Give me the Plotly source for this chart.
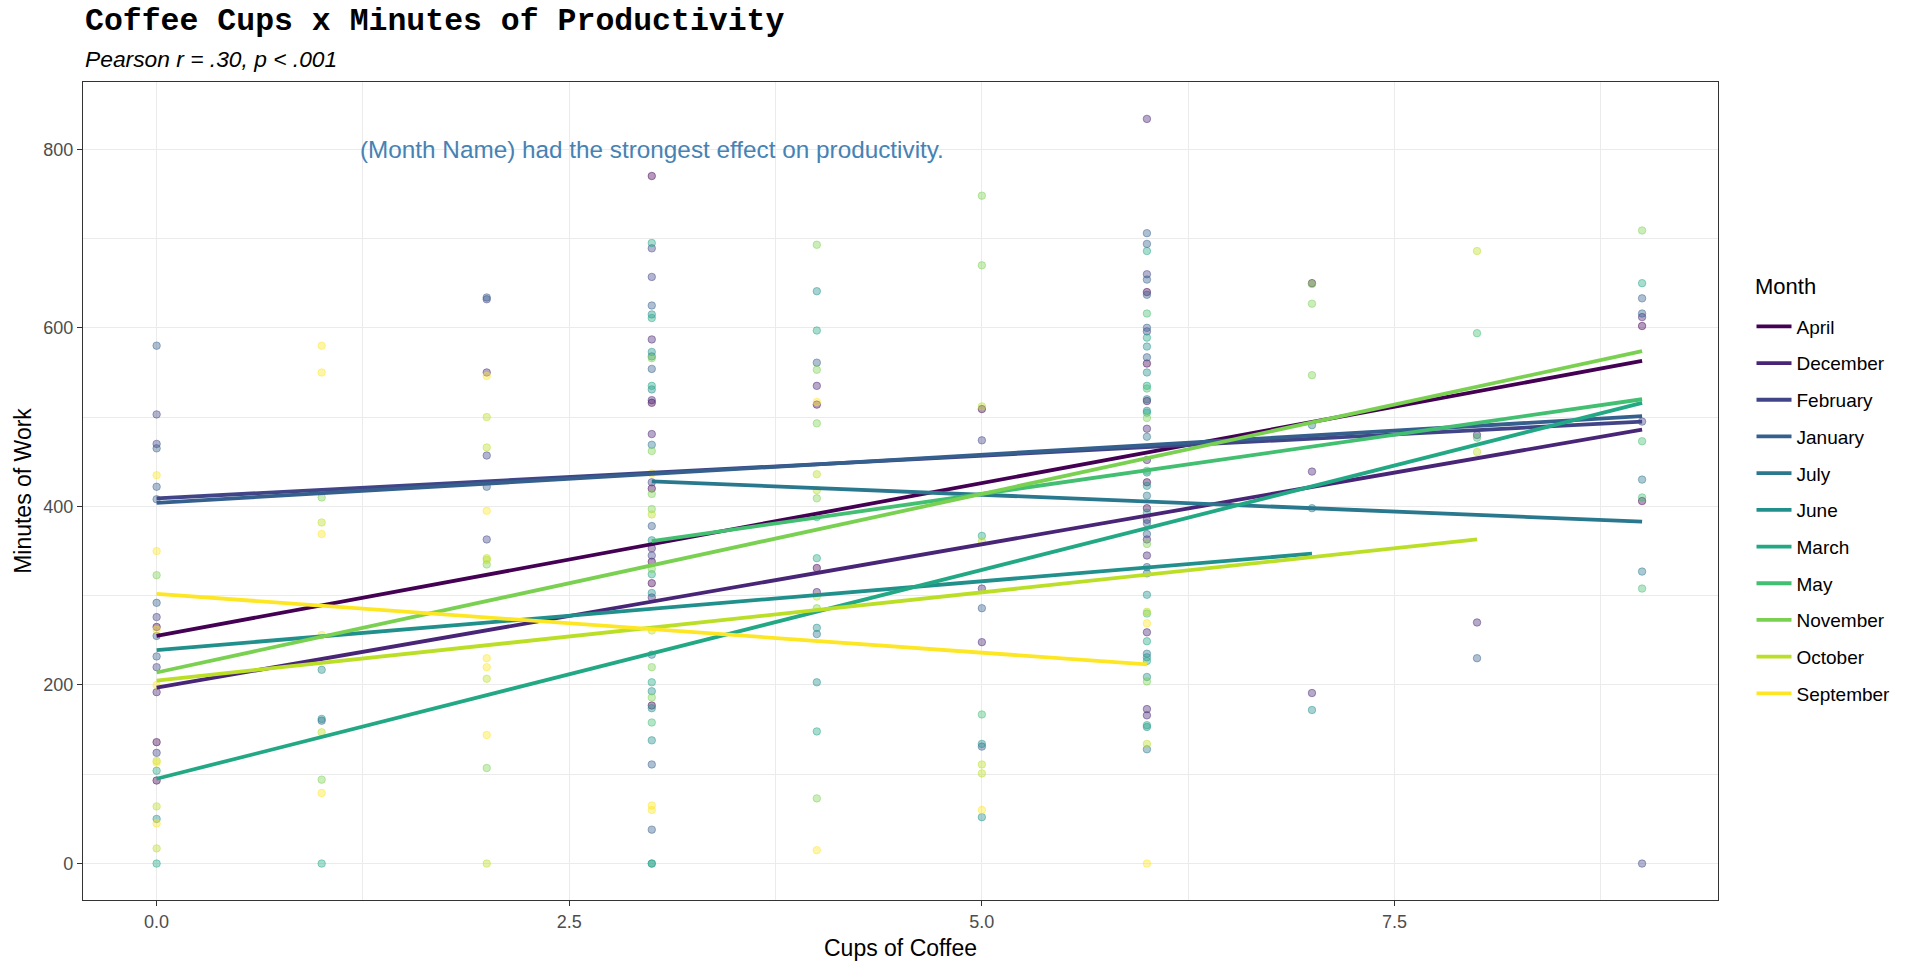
import plotly.graph_objects as go

# ---------------- data ----------------
months = ["April", "December", "February", "January", "July", "June",
          "March", "May", "November", "October", "September"]
colors = ["#440154", "#482576", "#414487", "#35608D", "#2A788E", "#21908C",
          "#22A884", "#43BF71", "#7AD151", "#BBDF27", "#FDE725"]

april_x = [0, 0, 0, 3, 3, 3, 3, 3, 3, 4, 4, 5, 6, 6, 6, 6, 6, 7, 9, 9]
april_y = [265, 136, 93, 770, 516, 420, 338, 314, 177, 514, 331, 509, 640, 560, 518, 427, 398, 650, 602, 406]

december_x = [0, 2, 3, 3, 3, 3, 3, 4, 4, 5, 5, 6, 6, 6, 6, 6, 6, 6, 6, 6, 7, 7, 8, 8, 9]
december_y = [192, 550, 587, 519, 481, 353, 298, 535, 304, 308, 248, 834, 487, 452, 385, 363, 345, 259, 173, 166, 439, 191, 480, 270, 612]

february_x = [0, 0, 0, 0, 0, 2, 2, 2, 3, 3, 3, 3, 5, 6, 6, 9, 9]
february_y = [503, 470, 276, 220, 124, 632, 457, 363, 689, 657, 427, 345, 474, 660, 596, 495, 0]

january_x = [0, 0, 0, 0, 0, 0, 0, 1, 2, 2, 3, 3, 3, 3, 3, 4, 5, 5, 6, 6, 6, 6, 6, 6, 6, 6, 6, 8, 9, 9]
january_y = [580, 465, 422, 408, 292, 255, 232, 160, 634, 422, 625, 554, 378, 111, 38, 561, 286, 131, 706, 694, 654, 637, 600, 567, 381, 369, 332, 230, 633, 616]

july_x = [3, 3, 3, 4, 6, 6, 6, 6, 6, 6, 7, 7, 9, 9]
july_y = [568, 469, 234, 257, 520, 478, 412, 325, 235, 128, 491, 398, 430, 327]

june_x = [0, 1, 1, 3, 3, 3, 3, 3, 3, 3, 3, 3, 4, 4, 4, 5, 5, 6, 6, 6, 6, 6, 6, 6, 6, 6, 6, 7]
june_y = [50, 217, 162, 615, 573, 531, 362, 303, 193, 174, 138, 0, 641, 264, 203, 134, 52, 579, 550, 507, 438, 423, 393, 301, 231, 209, 153, 172]

march_x = [0, 0, 1, 3, 3, 3, 3, 3, 3, 4, 4, 4, 4, 5, 6, 6, 6, 6, 6, 6, 6, 9]
march_y = [104, 0, 0, 695, 611, 535, 324, 203, 0, 597, 388, 342, 148, 367, 686, 589, 535, 505, 249, 227, 155, 650]

may_x = [3, 5, 6, 6, 6, 6, 8, 8, 9, 9, 9]
may_y = [158, 167, 616, 532, 440, 280, 594, 477, 473, 410, 308]

november_x = [0, 1, 1, 2, 2, 3, 3, 3, 3, 3, 3, 3, 4, 4, 4, 4, 4, 4, 5, 5, 6, 6, 6, 7, 7, 7, 9]
november_y = [323, 410, 94, 335, 107, 566, 462, 414, 397, 330, 220, 186, 693, 553, 493, 409, 286, 73, 748, 670, 499, 358, 204, 649, 627, 547, 709]

october_x = [0, 0, 0, 1, 1, 2, 2, 2, 2, 2, 2, 3, 3, 4, 4, 4, 5, 5, 5, 5, 6, 6, 8, 8]
october_y = [115, 64, 17, 382, 147, 500, 466, 342, 340, 207, 0, 391, 261, 436, 418, 299, 512, 361, 111, 101, 282, 134, 686, 461]

september_x = [0, 0, 0, 0, 0, 0, 1, 1, 1, 1, 1, 2, 2, 2, 2, 2, 3, 3, 3, 4, 4, 5, 6, 6]
september_y = [435, 350, 262, 200, 113, 45, 580, 550, 369, 256, 79, 546, 395, 230, 220, 144, 437, 65, 60, 517, 15, 60, 269, 0]

# fitted (lm) line end points per month
line_x0 = [0, 0, 0, 0, 3, 0, 0, 3, 0, 0, 0]
line_x1 = [9, 9, 9, 9, 9, 7, 9, 9, 9, 8, 6]
line_y0 = [255, 197, 409, 404, 428, 239, 95, 361, 214, 205, 302]
line_y1 = [563, 486, 495, 501, 383, 347, 516, 520, 574, 363, 223]

x_ticks = [0, 2.5, 5, 7.5]
x_tick_labels = ["0.0", "2.5", "5.0", "7.5"]
y_ticks = [0, 200, 400, 600, 800]
y_tick_labels = ["0", "200", "400", "600", "800"]

title_text = "Coffee Cups x Minutes of Productivity"
subtitle_text = "Pearson r = .30, p < .001"
note_text = "(Month Name) had the strongest effect on productivity."
legend_title = "Month"

points_x = [april_x, december_x, february_x, january_x, july_x, june_x,
            march_x, may_x, november_x, october_x, september_x]
points_y = [april_y, december_y, february_y, january_y, july_y, june_y,
            march_y, may_y, november_y, october_y, september_y]

# ---------------- figure ----------------
SANS = "Liberation Sans, Arial, sans-serif"
MONO = "Liberation Mono, Courier New, monospace"


def rgba(hex_color, a):
    h = hex_color.lstrip("#")
    r, g, b = int(h[0:2], 16), int(h[2:4], 16), int(h[4:6], 16)
    return f"rgba({r},{g},{b},{a})"


fig = go.Figure()

for m, c, xs, ys in zip(months, colors, points_x, points_y):
    fig.add_trace(go.Scatter(
        x=xs, y=ys, mode="markers", name=m, legendgroup=m, showlegend=False,
        marker=dict(size=7.5, color=rgba(c, 0.4),
                    line=dict(width=1, color=rgba(c, 0.45))),
        hoverinfo="x+y+name",
    ))

for m, c, a, b, ya, yb in zip(months, colors, line_x0, line_x1, line_y0, line_y1):
    fig.add_trace(go.Scatter(
        x=[a, b], y=[ya, yb], mode="lines", name=m, legendgroup=m,
        line=dict(color=c, width=3.8),
    ))

# body margin is removed in the page, so figure pixels == screen pixels
W, H = 1918, 973
L, R, T, B = 83, 200, 82, 73
PL, PR, PT, PB = 83, 1718, 82, 900  # plot area in screen pixels


def py(Y):
    return (PB - Y) / (PB - PT)


def px(X):
    return (X - PL) / (PR - PL)


fig.update_layout(
    width=W, height=H,
    margin=dict(l=L, r=R, t=T, b=B),
    paper_bgcolor="white", plot_bgcolor="white",
    font=dict(family=SANS, color="black"),
    showlegend=True,
    legend=dict(
        font=dict(size=19, family=SANS, color="black"),
        x=px(1751.5), xanchor="left",
        y=py(307.5), yanchor="top",
        tracegroupgap=9,
        itemwidth=35,
        traceorder="grouped",
        bgcolor="rgba(0,0,0,0)",
    ),
    xaxis=dict(
        range=[-0.446, 9.46],
        tickvals=x_ticks, ticktext=x_tick_labels,
        showgrid=True, gridcolor="#EBEBEB", gridwidth=1.3,
        minor=dict(dtick=1.25, tick0=0, showgrid=True, gridcolor="#EBEBEB", gridwidth=0.7),
        zeroline=False,
        showline=True, mirror=True, linecolor="#333333", linewidth=1.3,
        ticks="outside", ticklen=5, tickwidth=1.2, tickcolor="#333333",
        tickfont=dict(size=18, color="#4D4D4D", family=SANS),
        title=dict(text="Cups of Coffee", font=dict(size=23, family=SANS, color="black"), standoff=9),
    ),
    yaxis=dict(
        range=[-40.8, 875.3],
        tickvals=y_ticks, ticktext=y_tick_labels,
        showgrid=True, gridcolor="#EBEBEB", gridwidth=1.3,
        minor=dict(dtick=100, tick0=0, showgrid=True, gridcolor="#EBEBEB", gridwidth=0.7),
        zeroline=False,
        showline=True, mirror=True, linecolor="#333333", linewidth=1.3,
        ticks="outside", ticklen=5, tickwidth=1.2, tickcolor="#333333",
        tickfont=dict(size=18, color="#4D4D4D", family=SANS),
        title=dict(text="Minutes of Work", font=dict(size=23, family=SANS, color="black"), standoff=5),
    ),
    annotations=[
        dict(text=f"<b>{title_text}</b>", xref="paper", yref="paper",
             x=0, y=py(22), xanchor="left", yanchor="middle", showarrow=False,
             font=dict(family=MONO, size=31.5, color="black")),
        dict(text=f"<i>{subtitle_text}</i>", xref="paper", yref="paper",
             x=0, y=py(59), xanchor="left", yanchor="middle", showarrow=False,
             font=dict(family=SANS, size=22.8, color="black")),
        dict(text=note_text, xref="x", yref="y", x=3, y=800,
             xanchor="center", yanchor="middle", showarrow=False,
             font=dict(family=SANS, size=24.3, color="#4682B4")),
        dict(text=legend_title, xref="paper", yref="paper",
             x=px(1753), y=py(286), xanchor="left", yanchor="middle", showarrow=False,
             font=dict(family=SANS, size=22, color="black")),
    ],
)

fig.write_html("out.html", config={"displayModeBar": False},
               post_script="document.body.style.margin='0';")
